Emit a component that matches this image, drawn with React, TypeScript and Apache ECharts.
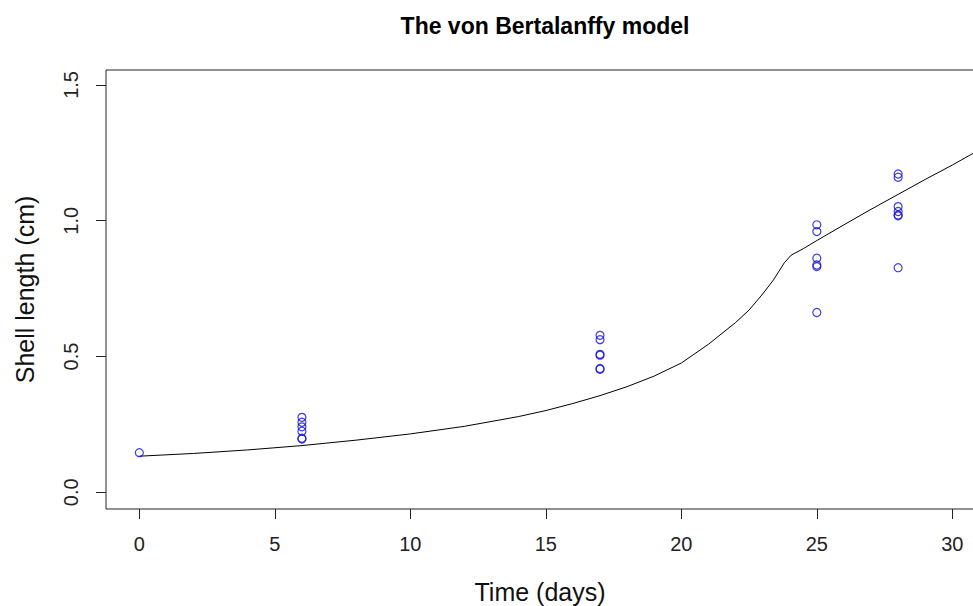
import React, { useEffect, useRef } from "react";
import * as echarts from "echarts";

const titleText = "The von Bertalanffy model";
const xAxisName = "Time (days)";
const yAxisName = "Shell length (cm)";
const xTicks = [0, 5, 10, 15, 20, 25, 30];
const yTicks = [0, 0.5, 1, 1.5];

// observed shell lengths (days, cm)
const obsDays = [0, 6, 6, 6, 6, 6, 6, 17, 17, 17, 17, 17, 17, 25, 25, 25, 25, 25, 25, 28, 28, 28, 28, 28, 28, 28];
const obsLength = [0.146, 0.276, 0.258, 0.241, 0.225, 0.199, 0.196, 0.578, 0.562, 0.508, 0.505, 0.456, 0.453, 0.985, 0.96, 0.862, 0.837, 0.831, 0.662, 1.172, 1.16, 1.052, 1.034, 1.021, 1.018, 0.827];

// fitted model curve
const fitDays = [0, 2, 4, 6, 8, 10, 12, 14, 15, 16, 17, 18, 19, 20, 21, 22, 22.5, 23, 23.4, 23.8, 24.05, 24.5, 25, 26, 27, 28, 29, 30, 30.8];
const fitLength = [0.133, 0.143, 0.156, 0.172, 0.192, 0.215, 0.243, 0.279, 0.301, 0.327, 0.356, 0.389, 0.428, 0.476, 0.545, 0.625, 0.671, 0.73, 0.782, 0.845, 0.873, 0.897, 0.927, 0.985, 1.042, 1.097, 1.152, 1.205, 1.25];

export default function App() {
  const ref = useRef<HTMLDivElement>(null);
  useEffect(() => {
    document.body.style.margin = "0";
    if (!ref.current) return;
    const chart = echarts.init(ref.current, null, { renderer: "svg" });
    const font = "'Liberation Sans', Arial, sans-serif";
    chart.setOption({
      animation: false,
      textStyle: { fontFamily: font },
      graphic: [
        {
          type: "text",
          x: 545,
          y: 26,
          style: {
            text: titleText,
            font: `bold 23px ${font}`,
            fill: "#000",
            textAlign: "center",
            textVerticalAlign: "middle",
          },
        },
      ],
      grid: {
        left: 106,
        top: 70,
        width: 868,
        height: 439,
        show: true,
        borderColor: "#222",
        borderWidth: 1,
        backgroundColor: "transparent",
        containLabel: false,
        outerBoundsMode: "none",
      },
      xAxis: {
        type: "value",
        min: -1.23,
        max: 30.8,
        name: xAxisName,
        nameLocation: "middle",
        nameGap: 70,
        nameTextStyle: { fontSize: 25, color: "#111", fontFamily: font },
        axisLine: { show: false, onZero: false },
        splitLine: { show: false },
        axisTick: { show: true, length: 10, inside: false, customValues: xTicks, lineStyle: { color: "#222" } },
        axisLabel: { customValues: xTicks, fontSize: 20, color: "#222", margin: 25, fontFamily: font },
      },
      yAxis: {
        type: "value",
        min: -0.0615,
        max: 1.555,
        name: yAxisName,
        nameLocation: "middle",
        nameGap: 69,
        nameRotate: 90,
        nameTextStyle: { fontSize: 25, color: "#111", fontFamily: font },
        axisLine: { show: false, onZero: false },
        splitLine: { show: false },
        axisTick: { show: true, length: 10, inside: false, customValues: yTicks, lineStyle: { color: "#222" } },
        axisLabel: {
          customValues: yTicks,
          rotate: 90,
          fontSize: 20,
          color: "#222",
          margin: 25,
          fontFamily: font,
          formatter: (v: number) => v.toFixed(1),
        },
      },
      series: [
        {
          type: "line",
          data: fitDays.map((d, i) => [d, fitLength[i]]),
          showSymbol: false,
          symbol: "none",
          lineStyle: { color: "#000", width: 1 },
          smooth: false,
          z: 2,
        },
        {
          type: "scatter",
          data: obsDays.map((d, i) => [d, obsLength[i]]),
          symbol: "circle",
          symbolSize: 8,
          itemStyle: { color: "rgba(0,0,0,0)", borderColor: "#1010d8", borderWidth: 1.2 },
          z: 3,
        },
      ],
    });
    return () => chart.dispose();
  }, []);
  return <div ref={ref} style={{ width: 973, height: 606 }} />;
}
